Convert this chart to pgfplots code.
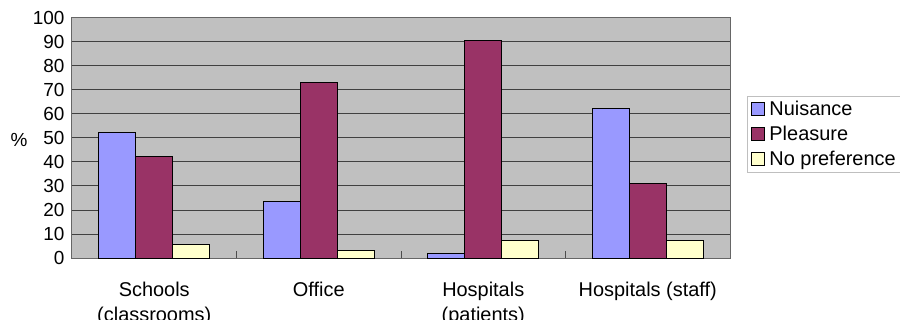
\documentclass[border=0pt]{standalone}
\usepackage{fontspec}
\setmainfont{Liberation Sans}
\usepackage{pgfplots}
\pgfplotsset{compat=1.18}
\definecolor{nuis}{HTML}{9999FF}
\definecolor{pleas}{HTML}{993366}
\definecolor{nopref}{HTML}{FFFFCC}
\definecolor{plotbg}{HTML}{C0C0C0}
\begin{document}
\begin{tikzpicture}
\useasboundingbox (-72bp,-62bp) rectangle (828bp,258bp);
\begin{axis}[
  at={(0,0)}, anchor=south west,
  scale only axis, width=658bp, height=240.5bp,
  ybar=0pt, bar width=37bp,
  xmin=-0.5, xmax=3.5, ymin=0, ymax=100,
  ytick={0,10,...,100},
  xtick={0.5,1.5,2.5},
  xticklabels={},
  xtick pos=bottom,
  major tick length=7bp,
  tick align=inside,
  xtick style={draw=gray!60!black, line width=0.8bp},
  ytick style={draw=none},
  extra x ticks={0,1,2,3},
  extra x tick labels={{Schools\\(classrooms)},Office,{Hospitals\\(patients)},{Hospitals (staff)}},
  extra x tick style={xtick style={draw=none}, xticklabel style={align=center, font=\fontsize{20}{25}\selectfont, yshift=-21bp}},
  yticklabel style={font=\fontsize{19}{22}\selectfont, xshift=-4bp},
  /pgf/number format/assume math mode=true,
  ymajorgrids,
  major grid style={black!75, line width=0.8bp},
  axis background/.style={fill=plotbg},
  axis line style={draw=gray!80!black, line width=1bp},
  x axis line style={draw=gray!60!black},
  ylabel={\%},
  ylabel style={at={(axis description cs:-0.0805,0.49)}, anchor=center, rotate=-90, font=\fontsize{19}{22}\selectfont},
  legend style={at={(axis description cs:1.026,0.674)}, anchor=north west, draw=gray!50, line width=0.8bp,
    font=\fontsize{20}{24}\selectfont, row sep=5bp, inner sep=3bp},
  legend cell align=left,
  legend image code/.code={\draw[#1,draw=black,line width=0.9bp] (0bp,-6.5bp) rectangle (13bp,6.5bp); \path (16bp,0bp);},
  every axis plot/.append style={draw=black, line width=1bp},
]
\addplot[fill=nuis] coordinates {(0,52) (1,23.6) (2,1.7) (3,62)};
\addplot[fill=pleas] coordinates {(0,42) (1,73) (2,90.6) (3,30.9)};
\addplot[fill=nopref] coordinates {(0,5.8) (1,3.2) (2,7.2) (3,7.2)};
\legend{Nuisance,Pleasure,No preference}
\end{axis}
\end{tikzpicture}
\end{document}
